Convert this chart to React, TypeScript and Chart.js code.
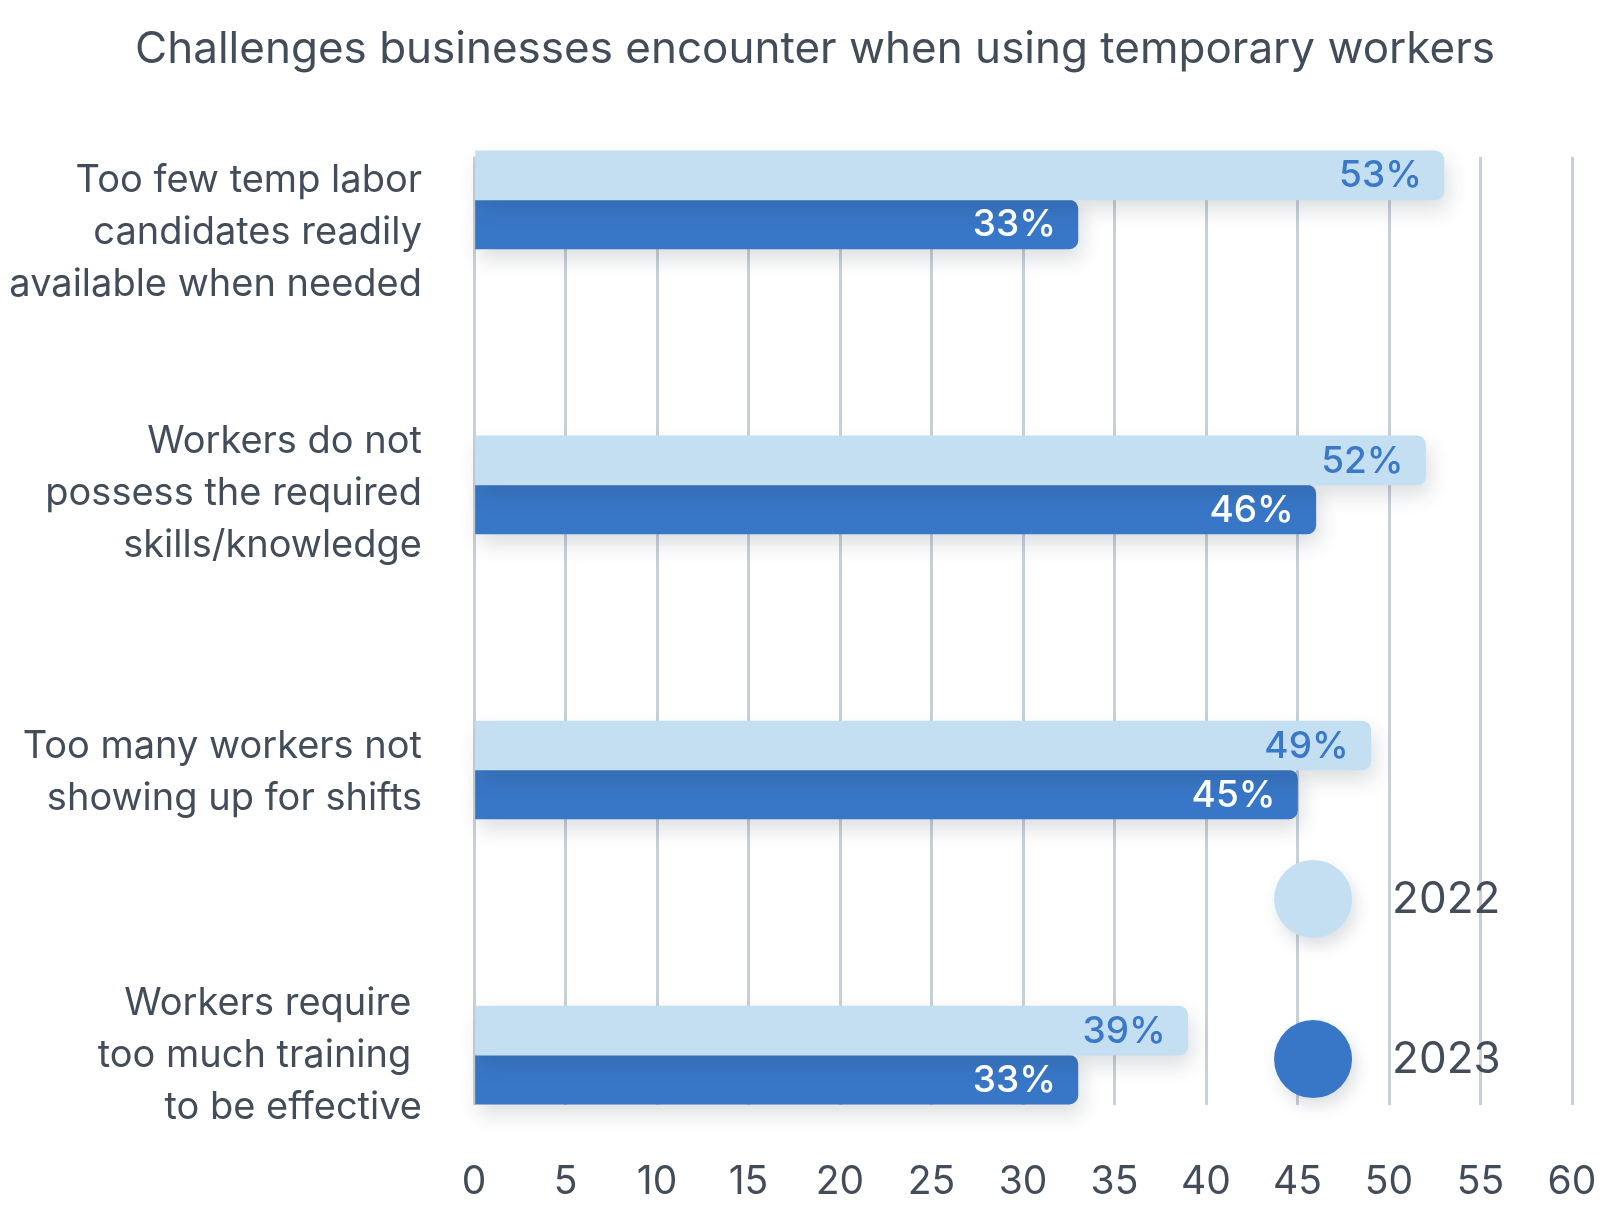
import React, { useEffect, useRef } from "react";
import { Chart, registerables } from "chart.js";

Chart.register(...registerables);

const categories: string[][] = [
  ["Too few temp labor", "candidates readily", "available when needed"],
  ["Workers do not", "possess the required", "skills/knowledge"],
  ["Too many workers not", "showing up for shifts"],
  ["Workers require ", "too much training ", "to be effective"],
];
const seriesNames = ["2022", "2023"];
const values2022 = [53, 52, 49, 39];
const values2023 = [33, 46, 45, 33];
const xTickStep = 5;
const xMin = 0;
const xMax = 60;
const titleText = "Challenges businesses encounter when using temporary workers";

const FONT = "Inter, 'Noto Sans', sans-serif";
const TEXT = "#434d5a";
const LIGHT = "#c5dff2";
const DARK = "#3877c7";
const labelColors = ["#3a78c8", "#ffffff"];

// tick positions for category labels (index space)
const labelPositions = [0.114, 1.03, 2.009, 3.002];
const legendPos = [
  { x: 45.85, y: 2.452 },
  { x: 45.85, y: 3.014 },
];

const seriesValues = [values2022, values2023];

const shadowLabelPlugin = {
  id: "shadowLabel",
  beforeDatasetsDraw(chart: any) {
    const ctx = chart.ctx;
    ctx.save();
    ctx.shadowColor = "rgba(40,50,70,0.16)";
    ctx.shadowBlur = 20;
    ctx.shadowOffsetX = 4;
    ctx.shadowOffsetY = 10;
  },
  afterDatasetsDraw(chart: any) {
    const ctx = chart.ctx;
    ctx.restore();
    chart.data.datasets.forEach((ds: any, di: number) => {
      const meta = chart.getDatasetMeta(di);
      meta.data.forEach((el: any, i: number) => {
        const { x, y } = el.getProps(["x", "y"], true);
        ctx.save();
        ctx.font = `500 37px ${FONT}`;
        ctx.fillStyle = labelColors[di];
        ctx.textAlign = "right";
        ctx.textBaseline = "middle";
        ctx.fillText(`${seriesValues[di][i]}%`, x - 22, y + 1);
        ctx.restore();
      });
    });
  },
  afterDraw(chart: any) {
    const ctx = chart.ctx;
    const xs = chart.scales.x;
    const ys = chart.scales.y;
    chart.data.datasets.forEach((ds: any, di: number) => {
      const cx = xs.getPixelForValue(legendPos[di].x);
      const cy = ys.getPixelForValue(legendPos[di].y);
      ctx.save();
      ctx.shadowColor = "rgba(40,50,70,0.16)";
      ctx.shadowBlur = 16;
      ctx.shadowOffsetX = 4;
      ctx.shadowOffsetY = 8;
      ctx.beginPath();
      ctx.arc(cx, cy, 39, 0, Math.PI * 2);
      ctx.fillStyle = ds.backgroundColor;
      ctx.fill();
      ctx.restore();
      ctx.save();
      ctx.font = `44px ${FONT}`;
      ctx.fillStyle = TEXT;
      ctx.textAlign = "left";
      ctx.textBaseline = "middle";
      ctx.fillText(ds.label, cx + 79, cy + 1);
      ctx.restore();
    });
  },
};

export default function App() {
  const ref = useRef<HTMLCanvasElement | null>(null);
  useEffect(() => {
    document.body.style.margin = "0";
    const canvas = ref.current;
    if (!canvas) return;
    const chart = new Chart(canvas, {
      type: "bar",
      data: {
        datasets: [
          {
            label: seriesNames[0],
            data: values2022.map((v, i) => ({ x: v, y: i })),
            backgroundColor: LIGHT,
            borderRadius: 9,
            borderSkipped: "start",
            barThickness: 49,
            clip: false,
          },
          {
            label: seriesNames[1],
            data: values2023.map((v, i) => ({ x: v, y: i })),
            backgroundColor: DARK,
            borderRadius: 9,
            borderSkipped: "start",
            barThickness: 49,
            clip: false,
          },
        ] as any,
      },
      options: {
        indexAxis: "y",
        animation: false,
        responsive: false,
        devicePixelRatio: 1,
        layout: { padding: { left: 8, right: 0, top: 0, bottom: 0 } },
        plugins: {
          legend: { display: false },
          tooltip: { enabled: false },
          title: {
            display: true,
            text: titleText,
            color: TEXT,
            font: { family: FONT, size: 44, weight: "normal" as any, lineHeight: 1.2 },
            padding: { top: 23, bottom: 81 },
          },
        },
        scales: {
          x: {
            type: "linear",
            min: xMin,
            max: xMax,
            position: "bottom",
            border: { display: false },
            grid: { color: "#c9d0d8", lineWidth: 3, drawTicks: false },
            ticks: {
              stepSize: xTickStep,
              color: TEXT,
              font: { family: FONT, size: 39, lineHeight: 1.2 },
              padding: 54,
            },
            afterFit: (s: any) => {
              s.height = 101;
              s.paddingLeft = 0;
              s.paddingRight = 50;
            },
          },
          y: {
            type: "linear",
            reverse: true,
            offset: false,
            min: -0.151,
            max: 3.175,
            border: { display: false },
            grid: { display: false, drawTicks: false },
            afterBuildTicks: (s: any) => {
              s.ticks = labelPositions.map((v) => ({ value: v }));
            },
            afterFit: (s: any) => {
              s.width = 466;
              s.paddingTop = 0;
              s.paddingBottom = 0;
            },
            ticks: {
              autoSkip: false,
              color: TEXT,
              font: { family: FONT, size: 38, lineHeight: 1.37 },
              padding: 52,
              callback: (_v: any, i: number) => categories[i],
            },
          },
        } as any,
      },
      plugins: [shadowLabelPlugin],
    });
    return () => chart.destroy();
  }, []);
  return (
    <div style={{ width: 1622, height: 1206 }}>
      <canvas ref={ref} width={1622} height={1206} style={{ display: "block" }} />
    </div>
  );
}
